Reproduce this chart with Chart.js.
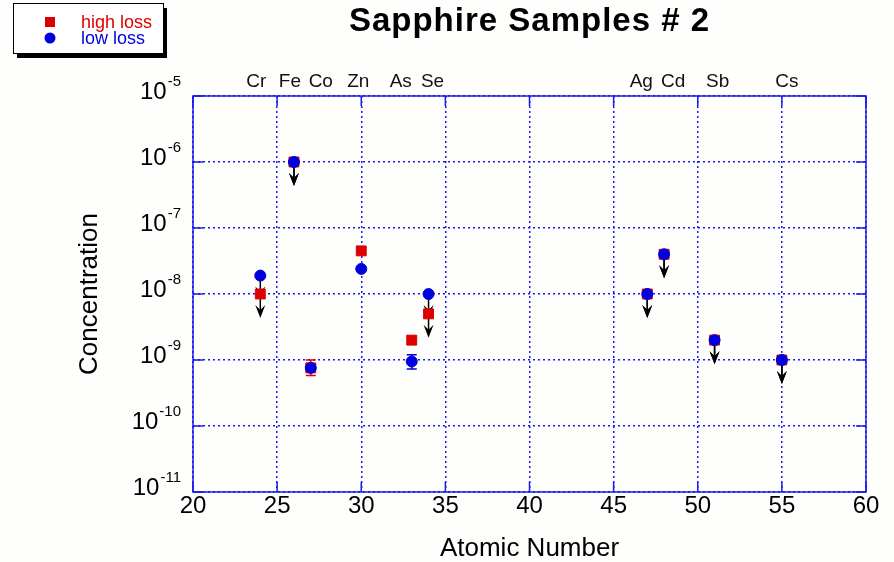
<!DOCTYPE html>
<html>
<head>
<meta charset="utf-8">
<title>Sapphire Samples # 2</title>
<script src="https://cdn.jsdelivr.net/npm/chart.js@4.4.1/dist/chart.umd.min.js"></script>
<style>
  html, body { margin: 0; padding: 0; background: #fefefc; }
</style>
</head>
<body>
<canvas id="sapphire" width="894" height="562"></canvas>
<script>
// values
var elements = ['Cr', 'Fe', 'Co', 'Zn', 'As', 'Se', 'Ag', 'Cd', 'Sb', 'Cs'];
var atomicNumbers = [24, 26, 27, 30, 33, 34, 47, 48, 51, 55];
var highLoss = [1e-8, 1e-6, 7.6e-10, 4.5e-8, 2e-9, 5e-9, 1e-8, 4e-8, 2e-9, 1e-9];
var lowLoss = [1.9e-8, 1e-6, 7.6e-10, 2.4e-8, 9.5e-10, 1e-8, 1e-8, 4e-8, 2e-9, 1e-9];

// upper limits get a down arrow
var highIsLimit = [true, true, false, false, false, true, true, true, true, true];
var lowIsLimit = [true, true, false, false, false, true, true, true, true, true];

// error bars (null = none)
var highErrLow = [null, null, 5.8e-10, null, null, null, null, null, null, null];
var highErrHigh = [null, null, 1e-9, null, null, null, null, null, null, null];
var lowErrLow = [null, null, null, null, 7.3e-10, null, null, null, null, null];
var lowErrHigh = [null, null, null, null, 1.2e-9, null, null, null, null, null];

var xTicks = [20, 25, 30, 35, 40, 45, 50, 55, 60];
var yTicks = [1e-11, 1e-10, 1e-9, 1e-8, 1e-7, 1e-6, 1e-5];

var FONT = "'Liberation Sans', Arial, Helvetica, sans-serif";
var RED = '#dd0000';
var BLUE = '#0000dd';
var GRID_BLUE = '#1a1aee';

// label nudges (px) so crowded element names don't collide
var labelNudge = { Cr: -4, Fe: -4, Co: 10, Zn: -3, As: -11, Se: 4, Ag: -6, Cd: 9, Sb: 3, Cs: 5 };

function points(values) {
    return atomicNumbers.map(function(z, i) {
        return { x: z, y: values[i] };
    });
}

function drawArrow(ctx, x, y) {
    var tip = y + 24;
    ctx.strokeStyle = '#000';
    ctx.fillStyle = '#000';
    ctx.lineWidth = 1.5;
    ctx.beginPath();
    ctx.moveTo(x, y);
    ctx.lineTo(x, tip - 6);
    ctx.stroke();
    ctx.beginPath();
    ctx.moveTo(x, tip);
    ctx.lineTo(x - 5, tip - 13);
    ctx.lineTo(x, tip - 8);
    ctx.lineTo(x + 5, tip - 13);
    ctx.closePath();
    ctx.fill();
}

function drawErrorBar(ctx, x, y1, y2, color) {
    ctx.strokeStyle = color;
    ctx.lineWidth = 1.5;
    ctx.beginPath();
    ctx.moveTo(x, y1);
    ctx.lineTo(x, y2);
    ctx.moveTo(x - 5, y1);
    ctx.lineTo(x + 5, y1);
    ctx.moveTo(x - 5, y2);
    ctx.lineTo(x + 5, y2);
    ctx.stroke();
}

var decorations = {
    id: 'decorations',
    beforeDraw: function(chart) {
        var ctx = chart.ctx;
        ctx.save();
        ctx.fillStyle = '#fefefc';
        ctx.fillRect(0, 0, chart.width, chart.height);
        ctx.restore();
    },
    beforeDatasetsDraw: function(chart) {
        var ctx = chart.ctx;
        var a = chart.chartArea;
        var xs = chart.scales.x;
        var ys = chart.scales.y;
        ctx.save();

        // solid frame with inward tick marks
        ctx.strokeStyle = GRID_BLUE;
        ctx.lineWidth = 1.5;
        ctx.strokeRect(a.left, a.top, a.right - a.left, a.bottom - a.top);
        ctx.beginPath();
        xTicks.forEach(function(t) {
            var px = xs.getPixelForValue(t);
            ctx.moveTo(px, a.top);
            ctx.lineTo(px, a.top + 10);
            ctx.moveTo(px, a.bottom);
            ctx.lineTo(px, a.bottom - 10);
        });
        yTicks.forEach(function(t) {
            var py = ys.getPixelForValue(t);
            ctx.moveTo(a.left, py);
            ctx.lineTo(a.left + 10, py);
            ctx.moveTo(a.right, py);
            ctx.lineTo(a.right - 10, py);
        });
        ctx.stroke();

        // error bars and upper-limit arrows, under the markers
        chart.data.datasets.forEach(function(ds, di) {
            var meta = chart.getDatasetMeta(di);
            meta.data.forEach(function(pt, i) {
                if (ds.errLow[i] != null) {
                    drawErrorBar(ctx, pt.x, ys.getPixelForValue(ds.errLow[i]), ys.getPixelForValue(ds.errHigh[i]), ds.borderColor);
                }
                if (ds.isLimit[i]) {
                    drawArrow(ctx, pt.x, pt.y);
                }
            });
        });
        ctx.restore();
    },
    afterDraw: function(chart) {
        var ctx = chart.ctx;
        var a = chart.chartArea;
        var xs = chart.scales.x;
        var ys = chart.scales.y;
        ctx.save();

        // y tick labels as 10 with a raised exponent
        ctx.fillStyle = '#000';
        ctx.textAlign = 'right';
        ctx.textBaseline = 'alphabetic';
        yTicks.forEach(function(v) {
            var py = ys.getPixelForValue(v);
            var exp = String(Math.round(Math.log10(v)));
            ctx.font = '15px ' + FONT;
            var ew = ctx.measureText(exp).width;
            ctx.fillText(exp, 181, py - 10);
            ctx.font = '24px ' + FONT;
            ctx.fillText('10', 181 - ew - 1, py + 3);
        });

        // element names along the top
        ctx.textAlign = 'center';
        ctx.font = '19px ' + FONT;
        ctx.fillStyle = '#111';
        elements.forEach(function(el, i) {
            ctx.fillText(el, xs.getPixelForValue(atomicNumbers[i]) + labelNudge[el], 87);
        });

        // title
        ctx.font = 'bold 33px ' + FONT;
        ctx.fillStyle = '#000';
        ctx.letterSpacing = '1px';
        ctx.fillText('Sapphire Samples # 2', (a.left + a.right) / 2, 31);
        ctx.letterSpacing = '0px';

        // legend box with drop shadow
        ctx.fillStyle = '#000';
        ctx.fillRect(17, 8, 150, 50);
        ctx.fillStyle = '#fff';
        ctx.fillRect(13, 3, 150, 50);
        ctx.strokeStyle = '#000';
        ctx.lineWidth = 1;
        ctx.strokeRect(13.5, 3.5, 150, 50);
        ctx.textAlign = 'left';
        ctx.font = '18px ' + FONT;
        chart.data.datasets.forEach(function(ds, i) {
            var cy = 22 + i * 16;
            ctx.fillStyle = ds.backgroundColor;
            if (ds.pointStyle === 'rect') {
                ctx.fillRect(45, cy - 5, 10, 10);
            } else {
                ctx.beginPath();
                ctx.arc(50, cy, 5.5, 0, Math.PI * 2);
                ctx.fill();
            }
            ctx.fillText(ds.label, 81, cy + 6);
        });
        ctx.restore();
    }
};

var gridOpts = {
    color: GRID_BLUE,
    lineWidth: 1.5,
    drawTicks: false
};

var sapphireChart = new Chart(document.getElementById('sapphire'), {
    type: 'scatter',
    data: {
        datasets: [
            {
                label: 'high loss',
                data: points(highLoss),
                pointStyle: 'rect',
                pointRadius: 7,
                pointHoverRadius: 7,
                backgroundColor: RED,
                borderColor: RED,
                borderWidth: 1,
                order: 2,
                isLimit: highIsLimit,
                errLow: highErrLow,
                errHigh: highErrHigh
            },
            {
                label: 'low loss',
                data: points(lowLoss),
                pointStyle: 'circle',
                pointRadius: 5.5,
                pointHoverRadius: 5.5,
                backgroundColor: BLUE,
                borderColor: BLUE,
                borderWidth: 1,
                order: 1,
                isLimit: lowIsLimit,
                errLow: lowErrLow,
                errHigh: lowErrHigh
            }
        ]
    },
    options: {
        responsive: false,
        animation: false,
        layout: {
            padding: { top: 96, right: 28, left: 0, bottom: 0 }
        },
        plugins: {
            legend: { display: false },
            tooltip: { enabled: false }
        },
        scales: {
            x: {
                type: 'linear',
                min: 20,
                max: 60,
                afterBuildTicks: function(scale) {
                    scale.ticks = xTicks.map(function(v) { return { value: v }; });
                },
                afterFit: function(scale) {
                    scale.height = 70;
                },
                ticks: {
                    font: { family: FONT, size: 24 },
                    color: '#000',
                    padding: 0,
                    maxRotation: 0
                },
                grid: gridOpts,
                border: { display: false, dash: [2, 3] },
                title: {
                    display: true,
                    text: 'Atomic Number',
                    color: '#000',
                    font: { family: FONT, size: 26, lineHeight: 1 },
                    padding: 0
                }
            },
            y: {
                type: 'logarithmic',
                min: 1e-11,
                max: 1e-5,
                afterBuildTicks: function(scale) {
                    scale.ticks = yTicks.map(function(v) { return { value: v, major: true }; });
                },
                afterFit: function(scale) {
                    scale.width = 193;
                },
                ticks: { display: false },
                grid: gridOpts,
                border: { display: false, dash: [2, 3] },
                title: {
                    display: true,
                    text: 'Concentration',
                    color: '#000',
                    font: { family: FONT, size: 26, lineHeight: 1 },
                    padding: { top: 77, bottom: 0 }
                }
            }
        }
    },
    plugins: [decorations]
});
</script>
</body>
</html>
